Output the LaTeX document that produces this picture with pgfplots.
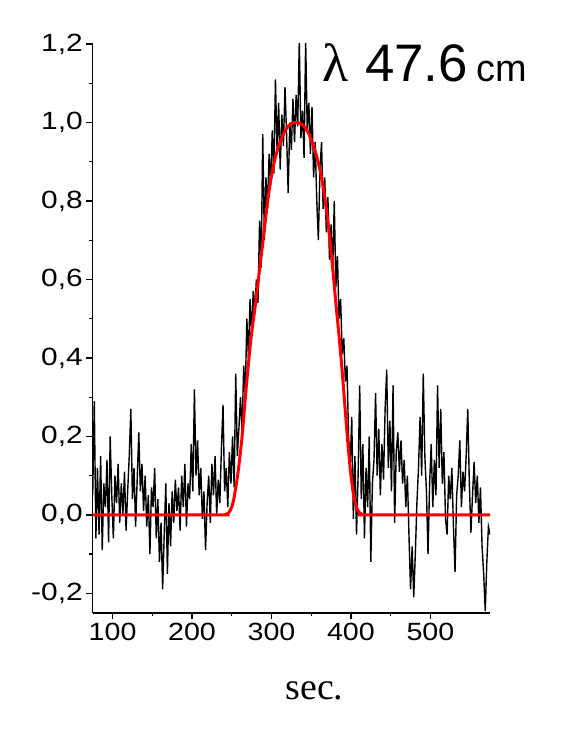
\documentclass[border=0pt]{standalone}
\usepackage{graphicx}
\usepackage{pgfplots}
\pgfplotsset{compat=1.18}
\usepackage{fontspec}
\setmainfont{Liberation Sans}
\newfontfamily\serif{Liberation Serif}
\begin{document}
\begin{tikzpicture}[x=1bp,y=1bp]
\path[use as bounding box] (0,0) rectangle (572,740);
\begin{axis}[
  at={(92.7bp,127bp)}, anchor=south west,
  scale only axis, width=397.3bp, height=569bp,
  xmin=75, xmax=575, ymin=-0.25, ymax=1.2,
  axis x line*=bottom, axis y line*=left,
  axis line style={line width=1.5bp, -},
  tick align=outside,
  tick style={black, line width=1.3bp},
  major tick length=6.5bp, minor tick length=3.5bp,
  xtick={100,200,300,400,500}, minor x tick num=1,
  ytick={-0.2,0,0.2,0.4,0.6,0.8,1.0,1.2}, minor y tick num=1,
  tick label style={font=\fontsize{25}{25}\selectfont},
  /pgf/number format/assume math mode=true,
  yticklabel={\scalebox{1.2}[1]{\pgfmathprintnumber[use comma,fixed,fixed zerofill,precision=1]{\tick}}},
  xticklabel={\scalebox{1.15}[1]{\pgfmathprintnumber[fixed,precision=0]{\tick}}},
]
\addplot[black, line width=1.4bp] coordinates {
(75,0.05)(77,0.29)(79,-0.06)(81,0.12)(83,-0.05)(85,0.15)(87,-0.09)(89,0.08)(91,0.02)(93,0.14)
(95,-0.07)(97,0.20)(99,0.05)(101,-0.06)(103,0.10)(105,0.03)(107,0.13)(109,-0.02)(111,0.08)(113,0.00)
(115,0.11)(117,-0.04)(119,0.06)(121,0.15)(123,0.27)(125,0.04)(127,0.12)(129,-0.03)(131,0.09)(133,0.21)
(135,0.06)(137,0.13)(139,0.01)(141,0.10)(143,-0.03)(145,0.05)(147,-0.10)(149,0.07)(151,0.02)(153,0.12)
(155,-0.06)(157,0.04)(159,-0.12)(161,-0.02)(163,-0.19)(165,-0.05)(167,0.08)(169,-0.15)(171,0.03)(173,-0.08)
(175,0.06)(177,-0.02)(179,0.09)(181,0.01)(183,0.07)(185,-0.04)(187,0.10)(189,0.02)(191,0.13)(193,-0.03)
(195,0.08)(197,0.04)(199,0.18)(201,0.06)(203,0.32)(205,0.10)(207,0.19)(209,0.05)(211,0.12)(213,-0.01)
(215,0.06)(217,-0.09)(219,0.03)(221,0.10)(223,-0.02)(225,0.13)(227,0.05)(229,0.15)(231,0.00)(233,0.09)
(235,0.03)(237,0.17)(239,0.28)(241,0.06)(243,0.12)(245,0.02)(247,0.16)(249,0.08)(251,0.20)(253,0.07)
(255,0.36)(257,0.15)(259,0.22)(261,0.30)(263,0.21)(265,0.38)(267,0.31)(269,0.50)(271,0.40)(273,0.55)
(275,0.46)(277,0.57)(279,0.52)(281,0.60)(283,0.54)(285,0.75)(287,0.63)(289,0.97)(291,0.70)(293,0.86)
(295,0.78)(297,0.92)(299,0.84)(301,0.98)(303,0.87)(305,1.11)(307,0.93)(309,1.05)(311,0.88)(313,1.02)
(315,0.94)(317,1.09)(319,0.97)(321,0.82)(323,1.00)(325,0.93)(327,1.06)(329,0.95)(331,1.07)(333,0.99)
(335,1.21)(337,0.96)(339,1.03)(341,0.91)(343,1.21)(345,0.98)(347,1.05)(349,0.92)(351,1.04)(353,0.86)
(355,0.95)(357,0.80)(359,0.70)(361,0.88)(363,0.95)(365,0.78)(367,0.86)(369,0.72)(371,0.81)(373,0.65)
(375,0.74)(377,0.62)(379,0.80)(381,0.58)(383,0.66)(385,0.50)(387,0.55)(389,0.41)(391,0.45)(393,0.34)
(395,0.38)(397,0.20)(399,0.12)(401,0.25)(403,-0.01)(405,0.15)(407,-0.05)(409,0.10)(411,0.33)(413,0.04)
(415,0.18)(417,-0.06)(419,0.12)(421,0.02)(423,0.20)(425,-0.12)(427,0.08)(429,0.14)(431,0.31)(433,0.10)
(435,0.22)(437,0.05)(439,0.18)(441,0.09)(443,0.27)(445,0.37)(447,0.12)(449,0.24)(451,0.06)(453,0.33)
(455,-0.02)(457,0.16)(459,0.21)(461,0.11)(463,0.19)(465,0.08)(467,0.14)(469,0.02)(471,0.10)(473,-0.05)
(475,-0.19)(477,-0.08)(479,-0.21)(481,-0.10)(483,0.03)(485,0.12)(487,0.25)(489,0.10)(491,0.36)(493,0.15)
(495,0.06)(497,-0.10)(499,0.08)(501,0.18)(503,0.02)(505,0.14)(507,0.05)(509,0.33)(511,0.12)(513,0.27)
(515,0.08)(517,0.16)(519,-0.01)(521,-0.05)(523,0.10)(525,0.04)(527,0.12)(529,-0.03)(531,-0.145)(533,0.05)
(535,0.10)(537,0.19)(539,0.02)(541,0.11)(543,0.06)(545,0.15)(547,0.27)(549,0.08)(551,-0.045)(553,0.05)
(555,0.135)(557,0.03)(559,0.10)(561,-0.02)(563,0.07)(565,-0.08)(567,-0.15)(569,-0.245)(571,-0.12)(573,-0.03)
(575,-0.05)
};
\addplot[red, line width=3bp, smooth, tension=0.5] coordinates {
(75,0)(236,0)(242,0.001)(246,0.005)(250,0.02)(253,0.045)(258,0.11)(263,0.2)(268,0.32)(274,0.446)(280,0.54)
(285,0.625)(290,0.71)(294,0.78)(298,0.84)(302,0.885)(306,0.92)(311,0.95)(316,0.975)(321,0.99)(326,0.998)
(331,1.0)(336,0.998)(341,0.99)(346,0.975)(351,0.95)(356,0.92)(361,0.88)(365,0.835)(369,0.78)(373,0.71)
(377,0.63)(381,0.54)(385.5,0.446)(390,0.34)(395,0.21)(399,0.12)(402.6,0.06)(406,0.025)(410,0.007)(414,0.001)(420,0)(575,0)
};
\end{axis}
\node[anchor=base west, inner sep=0pt, font=\serif\fontsize{54}{54}\selectfont] at (322,658.3) {λ};
\node[anchor=base west, inner sep=0pt, font=\fontsize{53}{53}\selectfont] at (365,658.3) {47.6};
\node[anchor=base west, inner sep=0pt, font=\fontsize{38}{38}\selectfont] at (476,658.3) {cm};
\node[anchor=base, inner sep=0pt, font=\serif\fontsize{38}{38}\selectfont] at (314.5,40) {sec.};
\end{tikzpicture}
\end{document}
